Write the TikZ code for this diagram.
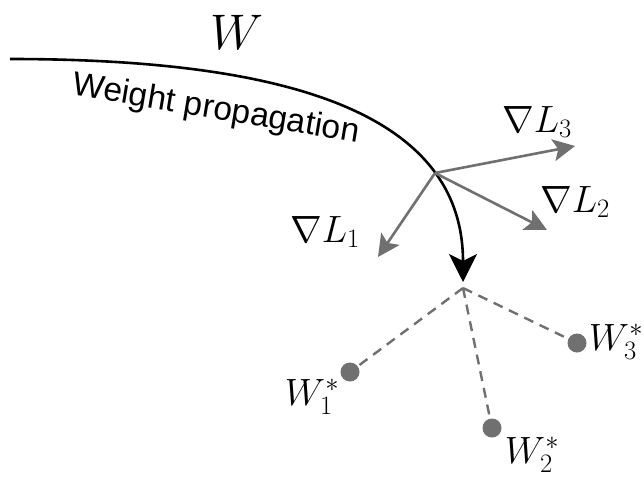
\RequirePackage{fix-cm}
\documentclass[tikz,border=0pt]{standalone}
\usepackage{fontspec}
\newfontfamily\labelfont{Liberation Sans}
\usetikzlibrary{arrows.meta}
\definecolor{gr}{RGB}{112,112,112}
\tikzset{
  path/.style={line width=2.6pt, black, -{Stealth[length=28pt,width=28pt,inset=7pt]}},
  grad/.style={line width=2.6pt, gr, -{Stealth[length=22pt,width=22pt,inset=5pt]}},
  dashline/.style={line width=2.4pt, gr, dash pattern=on 10pt off 7pt},
  dot/.style={circle, fill=gr, inner sep=0pt, minimum size=19pt},
  mathlbl/.style={font=\fontsize{38}{44}\selectfont, inner sep=0pt},
}
\begin{document}
\begin{tikzpicture}[x=1pt,y=-1pt]
\useasboundingbox (0,0) rectangle (644,477);
\coordinate (start) at (10,59);
\coordinate (tip) at (463,282);
\coordinate (o) at (435,173);
\coordinate (c) at (463,288);
\coordinate (g3) at (575,146);
\coordinate (g2) at (547,230);
\coordinate (g1) at (378,257);
\draw[path] (start) .. controls (280,59) and (463,110) .. (tip);
\draw[grad] (o) -- (g3);
\draw[grad] (o) -- (g2);
\draw[grad] (o) -- (g1);
\node[dot] (d1) at (350,372) {};
\node[dot] (d2) at (492,428) {};
\node[dot] (d3) at (577,343) {};
\draw[dashline] (c) -- (d1.center);
\draw[dashline] (c) -- (d2.center);
\draw[dashline] (c) -- (d3.center);
\node[mathlbl, font=\fontsize{50}{60}\selectfont] (W) at (237,32) {$W$};
\node[inner sep=0pt, rotate=-9.5, font=\labelfont\fontsize{33.5}{40}\selectfont] (wp) at (216,110) {Weight propagation};
\node[mathlbl] (l3) at (537,122) {$\nabla L_3$};
\node[mathlbl] (l2) at (575,202) {$\nabla L_2$};
\node[mathlbl] (l1) at (325,232) {$\nabla L_1$};
\node[mathlbl] (w1) at (312,397) {$W_1^*$};
\node[mathlbl] (w2) at (532,455) {$W_2^*$};
\node[mathlbl] (w3) at (616,342) {$W_3^*$};
\end{tikzpicture}
\end{document}
